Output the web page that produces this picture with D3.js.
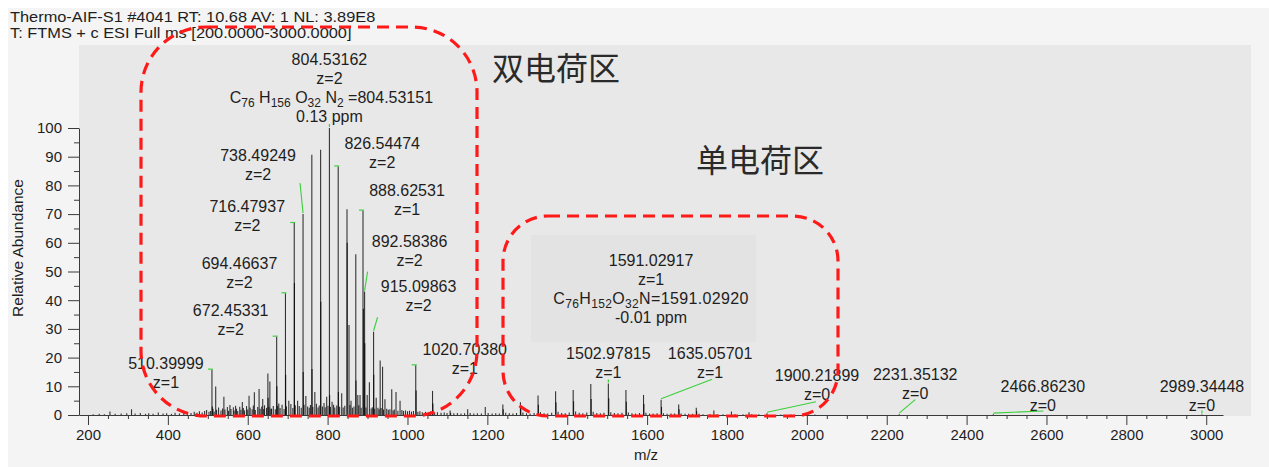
<!DOCTYPE html>
<html>
<head>
<meta charset="utf-8">
<script src="https://cdn.jsdelivr.net/npm/d3@7"></script>
<style>
  html, body { margin: 0; padding: 0; background: #ffffff; }
  svg { display: block; font-family: "Liberation Sans", Arial, sans-serif; }
</style>
</head>
<body>
<svg id="chart" width="1269" height="467"></svg>
<script>
// ---- scan header ----
const headerLines = [
  "Thermo-AIF-S1 #4041 RT: 10.68 AV: 1 NL: 3.89E8",
  "T: FTMS + c ESI Full ms [200.0000-3000.0000]"
];

// ---- axes ----
const xMajorTicks = d3.range(200, 3001, 200);
const xMinorTicks = d3.range(200, 3001, 50);
const yMajorTicks = [0, 10, 20, 30, 40, 50, 60, 70, 80, 90, 100];
const yMinorTicks = [5, 15, 25, 35, 45, 55, 65, 75, 85, 95];
const xTitle = "m/z";
const yTitle = "Relative Abundance";

// ---- region captions ----
const regionCaptions = ["双电荷区", "单电荷区"];

// ---- annotated centroids: m/z, relative abundance, charge ----
const annotatedMz = [804.53162, 826.54474, 738.49249, 716.47937, 888.62531, 694.46637,
  892.58386, 915.09863, 672.45331, 510.39999, 1020.70380, 1591.02917, 1502.97815,
  1635.05701, 1900.21899, 2231.35132, 2466.86230, 2989.34448];
const annotatedAbundance = [100, 86.6, 70.0, 66.9, 71.2, 42.4,
  43.0, 29.0, 27.3, 15.8, 17.3, 7.0, 11.0,
  5.3, 0.6, 0.3, 0.3, 0.2];
const annotatedCharge = [2, 2, 2, 2, 1, 2, 2, 2, 2, 1, 1, 1, 1, 1, 0, 0, 0, 0];

// elemental composition notes (segments: text, subscript flag)
const formula804 = [["C",0],["76",1],[" H",0],["156",1],[" O",0],["32",1],[" N",0],["2",1],[" =804.53151",0]];
const ppm804 = "0.13 ppm";
const formula1591 = [["C",0],["76",1],["H",0],["152",1],["O",0],["32",1],["N=1591.02920",0]];
const ppm1591 = "-0.01 ppm";

// ---- other centroids in the doubly charged envelope [m/z, abundance] ----
const envelopePeaks = [
  [519.8,9.9],[540.3,6.4],[555.4,3.5],[569.6,3.2],[586.5,4.5],[603.3,6.7],[616.6,7.9],
  [628.4,9.1],[637.5,5.6],[650.44,14.5],[655.4,11.7],[659.6,2.2],[677.8,4.0],[702.8,5.0],
  [724.9,5.0],[745.5,6.6],[760.50,90.7],[768.0,8.0],[782.51,92.4],[797.7,6.4],[811.2,4.6],
  [835.3,7.6],[848.56,71.7],[853.6,31.4],[858.6,5.0],[870.57,56.0],[875.6,7.0],[881.2,7.0],
  [899.1,7.0],[904.6,11.4],[921.6,6.0],[931.6,19.0],[937.6,16.8],[943.6,5.5],[960.6,9.0],
  [971.3,8.0],[981.4,5.0],[1062.7,8.4]
];
// partner isotopes sitting under the main lines
const isotopePeaks = [
  [651.0,6.0],[673.0,10.0],[695.0,14.0],[716.98,46.0],[738.99,15.0],[761.0,16.0],
  [783.0,39.5],[805.03,7.0],[827.05,8.0],[849.06,60.0],[871.07,12.0],[889.63,37.0],
  [893.08,25.0],[915.6,14.0],[1021.7,8.5],[1063.7,4.0],[511.4,3.0]
];
// singly charged 44 Da ladder
const ladderPeaks = [
  [1106.7,1.6],[1150.7,2.0],[1194.8,2.8],[1238.8,3.7],[1282.8,4.4],[1326.9,6.8],
  [1370.9,8.3],[1414.9,8.7],[1459.0,10.8],[1547.0,8.7],[1679.1,3.7],[1723.1,2.5],
  [1767.1,1.6],[1811.2,1.2],[1855.2,1.0],
  [1239.8,2.0],[1283.8,2.4],[1327.9,3.6],[1371.9,4.4],[1415.9,4.8],[1460.0,5.6],
  [1504.0,5.8],[1548.0,4.6],[1592.0,3.8],[1636.1,2.8],[1680.1,2.0],[1724.1,1.3]
];
// low-level centroids along the baseline
const baselinePeaks = [
  [213,0.3],[228,0.4],[241,0.3],[255,1.2],[268,0.4],[283,0.5],[297,0.6],[309,2.0],[318,0.5],
  [331,0.7],[344,0.4],[352,0.6],[363,0.4],[376,0.9],[388,0.5],[397,0.6],[409,0.4],[418,0.8],
  [429,0.5],[440,0.9],[449,0.6],[458,0.7],[466,1.1],[473,0.8],[479,1.3],[486,0.9],[492,1.4],
  [497,1.7],[503,1.1],[507,1.4],[513,2.2],[516,1.2],[522,1.8],[527,2.6],[533,1.6],[537,2.3],
  [543,1.9],[549,2.8],[552,1.5],[558,2.1],[564,2.7],[566,1.6],[572,2.2],[575,1.4],[580,2.9],
  [583,1.8],[589,2.4],[592,1.6],[597,3.1],[600,1.9],[606,2.6],[611,2.0],[614,3.3],[619,1.7],
  [625,2.8],[631,2.2],[635,3.0],[640,2.1],[642,3.4],[647,2.5],[653,2.9],[658,2.2],[664,3.1],
  [669,2.0],[675,3.2],[681,2.4],[686,3.6],[691,2.1],[697,3.0],[708,3.8],[713,2.4],[719,3.4],
  [729,3.1],[734,2.5],[741,3.6],[750,3.0],[754,2.5],[757,3.5],[763,2.8],[772,3.9],[776,2.6],
  [779,3.3],[787,3.0],[791,4.2],[794,2.7],[801,3.2],[807,2.8],[815,3.6],[818,2.6],[823,3.3],
  [830,2.9],[839,2.6],[843,3.2],[856,3.5],[862,2.5],[866,3.0],[878,3.4],[884,2.5],[896,2.6],
  [909,2.3],[912,2.7],[918,2.2],[926,2.5],[929,2.0],[934,2.4],[940,1.9],[948,2.2],[952,1.8],
  [956,2.0],[964,1.6],[967,1.9],[976,1.5],[986,1.7],[990,1.4],[995,1.6],[1000,1.3],[1005,1.5],
  [1010,1.2],[1015,1.4],[1026,1.1],[1031,1.3],[1037,1.0],[1045,1.1],[1053,0.9],[1058,1.2],
  [1068,0.9],[1075,1.0],[1084,0.8],[1092,0.9],[1099,0.7],[1108,0.8],[1116,0.6],[1125,0.7],
  [1134,0.5],[1143,0.6],[1157,0.7],[1166,0.5],[1175,0.6],[1185,0.5],[1202,0.7],[1212,0.5],
  [1221,0.6],[1230,0.5],[1246,0.8],[1255,0.6],[1264,0.5],[1273,0.7],[1289,0.9],[1298,0.6],
  [1307,0.5],[1317,0.7],[1333,1.0],[1342,0.6],[1351,0.5],[1361,0.8],[1377,1.1],[1386,0.7],
  [1395,0.6],[1405,0.9],[1421,1.2],[1430,0.8],[1439,0.6],[1449,0.9],[1465,1.1],[1474,0.7],
  [1483,0.6],[1492,0.8],[1509,1.0],[1518,0.7],[1527,0.6],[1537,0.8],[1553,0.9],[1562,0.6],
  [1571,0.5],[1581,0.7],[1597,0.8],[1606,0.5],[1615,0.5],[1625,0.6],[1641,0.6],[1650,0.4],
  [1660,0.5],[1669,0.5],[1685,0.5],[1695,0.4],[1704,0.4],[1714,0.4],[1730,0.4],[1740,0.3],
  [1758,0.3],[1775,0.3],[1790,0.3],[1820,0.3],[1840,0.3],[1862,0.3],[1880,0.3],[1935,0.2],
  [1960,0.2],[1990,0.2],[2020,0.2]
];

// ---- label placement (pixel offsets from the peak top) ----
const labelLayout = {
  "804.53162":  {dx: 0,    dy: -69,  mark: "v"},
  "826.54474":  {dx: 44,   dy: -22.5, mark: "h"},
  "738.49249":  {dx: -45,  dy: -59,  mark: "line", lx: 42,  ly: 28},
  "716.47937":  {dx: -47,  dy: -16,  mark: "h"},
  "888.62531":  {dx: 44,   dy: -20,  mark: "h"},
  "694.46637":  {dx: -46,  dy: -30,  mark: "h"},
  "892.58386":  {dx: 45,   dy: -50,  mark: "line", lx: -42, ly: 30},
  "915.09863":  {dx: 45,   dy: -45,  mark: "line", lx: -41, ly: 30.5},
  "672.45331":  {dx: -46,  dy: -26.5, mark: "h"},
  "510.39999":  {dx: -46,  dy: -6,   mark: "h"},
  "1020.70380": {dx: 49,   dy: -15.5, mark: "h"},
  "1591.02917": {dx: 7.5,  dy: -134, mark: "none", box: {x: -120, y: -26, w: 225, h: 107}},
  "1502.97815": {dx: 0,    dy: -30,  mark: "v"},
  "1635.05701": {dx: 49,   dy: -46.5, mark: "line", lx: 2,  ly: 26},
  "1900.21899": {dx: 50,   dy: -37.5, mark: "line", lx: -1, ly: 26},
  "2231.35132": {dx: 16,   dy: -39.5, mark: "line", lx: 0,  ly: 25},
  "2466.86230": {dx: 49.5, dy: -27.5, mark: "line", lx: 0.5, ly: 24.3},
  "2989.34448": {dx: 0,    dy: -27.5, mark: "v"}
};

const svg = d3.select("#chart");
const fmtMz = d3.format(".5f");

// frame
svg.append("rect").attr("x", 0).attr("y", 0).attr("width", 1269).attr("height", 467).attr("fill", "#ffffff");
svg.append("rect").attr("x", 8).attr("y", 8).attr("width", 1261).attr("height", 459).attr("fill", "#f4f4f4");
svg.append("rect").attr("x", 79).attr("y", 45).attr("width", 1172).attr("height", 371).attr("fill", "#e8e8e8");

const x = d3.scaleLinear().domain([177.5, 3042]).range([79, 1223]);
const y = d3.scaleLinear().domain([0, 100]).range([415, 128]);

// header (slightly wide lettering)
const header = svg.append("g").attr("fill", "#1e1e1e").style("font-size", "14px")
  .attr("transform", "translate(10,0) scale(1.17,1)");
headerLines.forEach((t, i) => {
  header.append("text").attr("x", 0).attr("y", 22 + i * 15.8).text(t);
});

// annotation background box (drawn under the spectrum)
annotatedMz.forEach((mz, i) => {
  const L = labelLayout[fmtMz(mz)];
  if (L && L.box) {
    const cx = x(mz) + L.dx, cy = y(annotatedAbundance[i]) + L.dy;
    svg.append("rect")
      .attr("x", cx + L.box.x).attr("y", cy + L.box.y)
      .attr("width", L.box.w).attr("height", L.box.h)
      .attr("fill", "#e3e3e3");
  }
});

// spectrum sticks
const allSticks = []
  .concat(baselinePeaks)
  .concat(ladderPeaks)
  .concat(envelopePeaks)
  .concat(isotopePeaks)
  .concat(annotatedMz.map((m, i) => [m, annotatedAbundance[i]]));

svg.append("g")
  .selectAll("line")
  .data(allSticks)
  .join("line")
  .attr("x1", d => x(d[0])).attr("x2", d => x(d[0]))
  .attr("y1", y(0)).attr("y2", d => y(d[1]))
  .attr("stroke", "#000")
  .attr("stroke-opacity", 0.78)
  .attr("stroke-width", 1.1);

// axes
const axisColor = "#3a3a3a";
const gx = svg.append("g").attr("transform", `translate(0,${y(0)})`)
  .call(d3.axisBottom(x).tickValues(xMajorTicks).tickSize(10).tickSizeOuter(0).tickPadding(4).tickFormat(d3.format("d")));
const gxm = svg.append("g").attr("transform", `translate(0,${y(0)})`)
  .call(d3.axisBottom(x).tickValues(xMinorTicks.filter(v => v % 200 !== 0)).tickSize(4).tickFormat(""));
gxm.select(".domain").remove();

const gy = svg.append("g").attr("transform", `translate(79,0)`)
  .call(d3.axisLeft(y).tickValues(yMajorTicks).tickSize(11).tickSizeOuter(0).tickPadding(6));
const gym = svg.append("g").attr("transform", `translate(79,0)`)
  .call(d3.axisLeft(y).tickValues(yMinorTicks).tickSize(5).tickFormat(""));
gym.select(".domain").remove();

[gx, gxm, gy, gym].forEach(g => {
  g.selectAll("path,line").attr("stroke", axisColor).attr("stroke-width", 1);
  g.selectAll("text").attr("fill", "#1e1e1e").style("font-size", "15px").attr("font-family", null);
});

svg.append("text").attr("x", 646).attr("y", 460).attr("text-anchor", "middle")
  .attr("fill", "#1e1e1e").style("font-size", "15px").text(xTitle);
svg.append("text").attr("transform", "translate(23,248) rotate(-90)").attr("text-anchor", "middle")
  .attr("fill", "#1e1e1e").style("font-size", "15.5px").text(yTitle);

// peak labels and leaders
const green = "#3ccf3c";
const labels = svg.append("g").attr("fill", "#1e1e1e").style("font-size", "16px").attr("text-anchor", "middle");
const lineGap = 19;

function addFormula(sel, cx, baseY, segments, spacing) {
  const t = sel.append("text").attr("x", cx).attr("y", baseY).style("letter-spacing", spacing);
  let shifted = false;
  segments.forEach(([txt, sub]) => {
    const ts = t.append("tspan").text(txt);
    if (sub && !shifted) { ts.attr("dy", 4).style("font-size", "12px"); shifted = true; }
    else if (sub) { ts.style("font-size", "12px"); }
    else if (!sub && shifted) { ts.attr("dy", -4); shifted = false; }
  });
}

annotatedMz.forEach((mz, i) => {
  const key = fmtMz(mz);
  const L = labelLayout[key];
  const px = x(mz), py = y(annotatedAbundance[i]);
  const cx = px + L.dx, cy = py + L.dy;
  const base = cy + 5.5;

  if (L.mark === "h") {
    svg.append("line").attr("x1", px - 4).attr("x2", px + 1).attr("y1", py - 0.5).attr("y2", py - 0.5)
      .attr("stroke", green).attr("stroke-width", 1.2);
  } else if (L.mark === "v") {
    svg.append("line").attr("x1", px).attr("x2", px).attr("y1", py - 4).attr("y2", py - 1)
      .attr("stroke", green).attr("stroke-width", 1.2);
  } else if (L.mark === "line") {
    svg.append("line").attr("x1", cx + L.lx).attr("y1", cy + L.ly).attr("x2", px).attr("y2", py - 1)
      .attr("stroke", green).attr("stroke-width", 1.1);
  }

  labels.append("text").attr("x", cx).attr("y", base).text(key);
  labels.append("text").attr("x", cx).attr("y", base + lineGap).text("z=" + annotatedCharge[i]);
  if (key === "804.53162") {
    addFormula(labels, cx + 2, base + 2 * lineGap, formula804, "0px");
    labels.append("text").attr("x", cx).attr("y", base + 3 * lineGap).text(ppm804);
  }
  if (key === "1591.02917") {
    addFormula(labels, cx, base + 2 * lineGap, formula1591, "0.35px");
    labels.append("text").attr("x", cx).attr("y", base + 3 * lineGap).text(ppm1591);
  }
});

// region captions
const cap = svg.append("g").attr("fill", "#2a2a2a")
  .style("font-family", "'Noto Sans CJK SC', 'Noto Sans', sans-serif").style("font-size", "32px");
cap.append("text").attr("x", 492).attr("y", 80).text(regionCaptions[0]);
cap.append("text").attr("x", 696).attr("y", 172).text(regionCaptions[1]);

// dashed outlines around the charge-state regions
const outline = svg.append("g").attr("fill", "none").attr("stroke", "#ff1a1a")
  .attr("stroke-width", 3.2).attr("stroke-dasharray", "12,7");
outline.append("rect").attr("x", 141).attr("y", 27).attr("width", 336).attr("height", 389).attr("rx", 65).attr("ry", 65);
outline.append("rect").attr("x", 503).attr("y", 216).attr("width", 335).attr("height", 200).attr("rx", 45).attr("ry", 45);
</script>
</body>
</html>
